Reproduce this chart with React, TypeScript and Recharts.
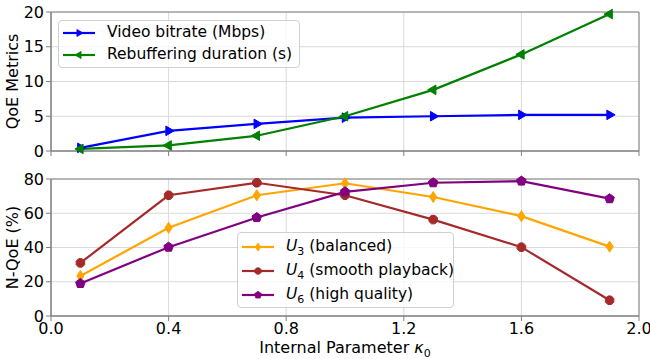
import React from "react";
import { LineChart, Line, CartesianGrid, XAxis, YAxis, ReferenceArea } from "recharts";

const kappa = [0.1, 0.4, 0.7, 1.0, 1.3, 1.6, 1.9];
const bitrate = [0.45, 2.9, 3.9, 4.8, 5.0, 5.2, 5.2];
const rebuffering = [0.3, 0.8, 2.2, 5.0, 8.8, 13.9, 19.7];
const u3 = [23.4, 51.5, 70.5, 77.5, 69.5, 58.3, 40.5];
const u4 = [31, 70.5, 77.8, 70.5, 56.3, 40.2, 9.2];
const u6 = [19, 40.2, 57.5, 72.5, 77.8, 78.8, 68.5];

const xTicks = [0, 0.4, 0.8, 1.2, 1.6, 2.0];
const topTicks = [0, 5, 10, 15, 20];
const bottomTicks = [0, 20, 40, 60, 80];

const FONT = "'DejaVu Sans', sans-serif";
const SPINE = "#808080";
const GRID = "#d9d9d9";
const FS = 16;

const topData = kappa.map((k, i) => ({ k, bitrate: bitrate[i], rebuffering: rebuffering[i] }));
const bottomData = kappa.map((k, i) => ({ k, u3: u3[i], u4: u4[i], u6: u6[i] }));

// marker outlines, roughly matplotlib's ">", "<", "d", "8", "p"
function shapePath(shape: string, cx: number, cy: number) {
  if (shape === "right") {
    const r = 5.5;
    return `M${cx + r},${cy} L${cx - r * 0.5},${cy - r * 0.87} L${cx - r * 0.5},${cy + r * 0.87} Z`;
  }
  if (shape === "left") {
    const r = 5.5;
    return `M${cx - r},${cy} L${cx + r * 0.5},${cy - r * 0.87} L${cx + r * 0.5},${cy + r * 0.87} Z`;
  }
  if (shape === "diamond") {
    return `M${cx},${cy - 5.5} L${cx + 3.6},${cy} L${cx},${cy + 5.5} L${cx - 3.6},${cy} Z`;
  }
  const n = shape === "octagon" ? 8 : 5;
  const r = shape === "octagon" ? 4.6 : 5;
  const start = shape === "octagon" ? Math.PI / 8 : -Math.PI / 2;
  let d = "";
  for (let i = 0; i < n; i++) {
    const a = start + (i * 2 * Math.PI) / n;
    d += `${i === 0 ? "M" : "L"}${cx + r * Math.cos(a)},${cy + r * Math.sin(a)} `;
  }
  return d + "Z";
}

function marker(shape: string, color: string) {
  return (p: any) => {
    const { cx, cy, key } = p;
    if (cx == null || cy == null) return <g key={key} />;
    return <path key={key} d={shapePath(shape, cx, cy)} fill={color} stroke={color} strokeWidth={1} />;
  };
}

function Swatch({ shape, color }: { shape: string; color: string }) {
  return (
    <svg width={32} height={12} style={{ display: "block", flex: "none" }}>
      <line x1={0} y1={6} x2={32} y2={6} stroke={color} strokeWidth={2.2} />
      <path d={shapePath(shape, 16, 6)} fill={color} stroke={color} transform="translate(16,6) scale(0.75) translate(-16,-6)" />
    </svg>
  );
}

type Item = { shape: string; color: string; label: React.ReactNode };

function LegendBox({ items, rowH, padTop, left, top, width, height }: any) {
  return (
    <div
      style={{
        position: "absolute",
        left,
        top,
        width,
        height,
        boxSizing: "border-box",
        background: "rgba(255,255,255,0.8)",
        border: "1px solid #d0d0d0",
        borderRadius: 4,
        paddingTop: padTop,
        paddingLeft: 4,
        fontFamily: FONT,
        fontSize: 15.5,
        color: "#000",
      }}
    >
      {(items as Item[]).map((it, i) => (
        <div key={i} style={{ display: "flex", alignItems: "center", height: rowH }}>
          <Swatch shape={it.shape} color={it.color} />
          <span style={{ marginLeft: 12, whiteSpace: "nowrap", lineHeight: 1 }}>{it.label}</span>
        </div>
      ))}
    </div>
  );
}

const U = (n: string, rest: string) => (
  <>
    <i>U</i>
    <span style={{ fontSize: 11, position: "relative", top: 4 }}>{n}</span> {rest}
  </>
);

const topItems: Item[] = [
  { shape: "right", color: "#0000ff", label: "Video bitrate (Mbps)" },
  { shape: "left", color: "#008000", label: "Rebuffering duration (s)" },
];
const bottomItems: Item[] = [
  { shape: "diamond", color: "#ffa500", label: U("3", "(balanced)") },
  { shape: "octagon", color: "#a52a2a", label: U("4", "(smooth playback)") },
  { shape: "pentagon", color: "#800080", label: U("6", "(high quality)") },
];

function YLabel({ viewBox, text }: any) {
  const x = viewBox.x + 18;
  const y = viewBox.y + viewBox.height / 2;
  return (
    <text x={x} y={y} transform={`rotate(-90, ${x}, ${y})`} textAnchor="middle" fontSize={FS} fill="#000">
      {text}
    </text>
  );
}

function XLabel({ viewBox }: any) {
  return (
    <text x={viewBox.x + viewBox.width / 2} y={viewBox.y + 37} textAnchor="middle" fontSize={FS} fill="#000">
      Internal Parameter <tspan fontStyle="italic">κ</tspan>
      <tspan fontSize={11} dy={4}>0</tspan>
    </text>
  );
}

const tickStyle = { fill: "#000", fontSize: FS };

export default function App() {
  return (
    <div style={{ position: "fixed", left: 0, top: 0, width: 650, height: 359, background: "#fff", fontFamily: FONT }}>
      <div style={{ position: "absolute", left: 0, top: 0 }}>
        <LineChart width={650} height={165} data={topData} margin={{ top: 12, right: 11, bottom: 0, left: 0 }}>
          <CartesianGrid stroke={GRID} />
          <XAxis dataKey="k" type="number" domain={[0, 2]} ticks={xTicks} tickFormatter={() => ""} height={14}
            tickSize={5} stroke={SPINE} />
          <YAxis type="number" domain={[0, 20]} ticks={topTicks} width={51} tickSize={5} tickMargin={2}
            tick={tickStyle} stroke={SPINE} label={<YLabel text="QoE Metrics" />} />
          <ReferenceArea x1={0} x2={2} y1={0} y2={20} fill="none" stroke={SPINE} strokeWidth={1} />
          <Line dataKey="bitrate" stroke="#0000ff" strokeWidth={2.2} dot={marker("right", "#0000ff")} isAnimationActive={false} />
          <Line dataKey="rebuffering" stroke="#008000" strokeWidth={2.2} dot={marker("left", "#008000")} isAnimationActive={false} />
        </LineChart>
      </div>
      <div style={{ position: "absolute", left: 0, top: 165 }}>
        <LineChart width={650} height={194} data={bottomData} margin={{ top: 14, right: 11, bottom: 0, left: 0 }}>
          <CartesianGrid stroke={GRID} />
          <XAxis dataKey="k" type="number" domain={[0, 2]} ticks={xTicks} tickFormatter={(v: number) => v.toFixed(1)}
            height={43} tickSize={5} tickMargin={2} tick={tickStyle} stroke={SPINE} label={<XLabel />} />
          <YAxis type="number" domain={[0, 80]} ticks={bottomTicks} width={51} tickSize={5} tickMargin={2}
            tick={tickStyle} stroke={SPINE} label={<YLabel text="N-QoE (%)" />} />
          <ReferenceArea x1={0} x2={2} y1={0} y2={80} fill="none" stroke={SPINE} strokeWidth={1} />
          <Line dataKey="u3" stroke="#ffa500" strokeWidth={2.2} dot={marker("diamond", "#ffa500")} isAnimationActive={false} />
          <Line dataKey="u4" stroke="#a52a2a" strokeWidth={2.2} dot={marker("octagon", "#a52a2a")} isAnimationActive={false} />
          <Line dataKey="u6" stroke="#800080" strokeWidth={2.2} dot={marker("pentagon", "#800080")} isAnimationActive={false} />
        </LineChart>
      </div>
      <LegendBox items={topItems} rowH={22} padTop={1} left={58} top={20} width={242} height={48} />
      <LegendBox items={bottomItems} rowH={24} padTop={2} left={237} top={232} width={217} height={76} />
    </div>
  );
}
